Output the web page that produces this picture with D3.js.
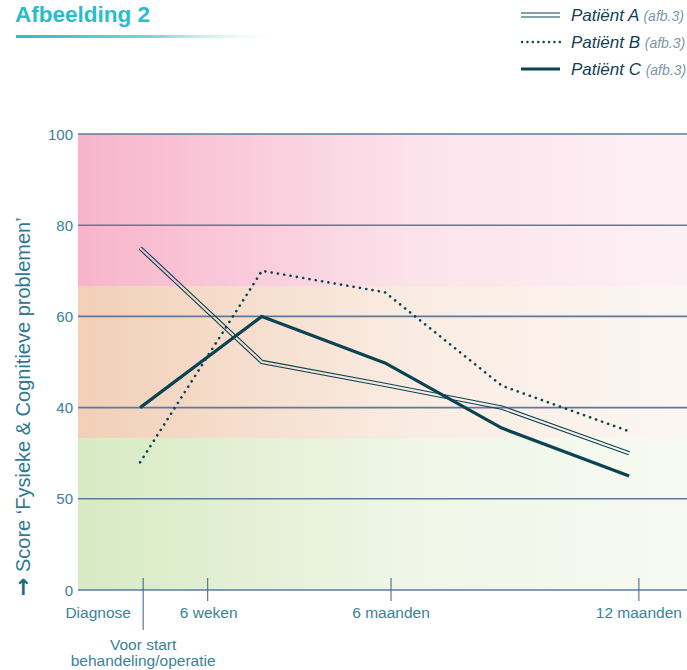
<!DOCTYPE html>
<html><head><meta charset="utf-8">
<script src="https://cdn.jsdelivr.net/npm/d3@7"></script>
<style>
html,body{margin:0;padding:0;background:#fff;}
svg{display:block;font-family:"Liberation Sans",Arial,sans-serif;}
</style></head>
<body>
<svg id="c" width="687" height="670"></svg>
<script>
// ---- data ----
const moments = [10.2, 30.2, 50.4, 69.6, 90.5];      // measurement moments (relative time position)
const patientA = [75, 50, 45, 40, 30];
const patientB = [28, 70, 65.3, 44.8, 34.8];
const patientC = [40, 60, 49.8, 35.5, 25];
const seriesNames = ["Patiënt A", "Patiënt B", "Patiënt C"];
const seriesNote = "(afb.3)";
const yTicks = [0, 20, 40, 60, 80, 100];
const yTickLabels = ["0", "50", "40", "60", "80", "100"];
const xTickPos = [10.7, 21.3, 51.4, 92.1];
const xTickLabels = ["Diagnose", "6 weken", "6 maanden", "12 maanden"];
const bandBreaks = [0, 33.33, 66.67, 100];
const title = "Afbeelding 2";
const yTitle = "Score ‘Fysieke & Cognitieve problemen’";

const svg = d3.select("#c");
const W = 687, H = 670;
const m = {left: 78, right: 0, top: 134, bottom: 80};
const x = d3.scaleLinear().domain([0, 100]).range([m.left, W - m.right]);
const y = d3.scaleLinear().domain([0, 100]).range([H - m.bottom, m.top]);

const defs = svg.append("defs");
const bandColors = [
  ["#d7eac3", "#f7faf3"],
  ["#f2cfb7", "#fcf6f1"],
  ["#f7b4ca", "#fdf1f5"]
];
bandColors.forEach((c, i) => {
  const g = defs.append("linearGradient").attr("id", "band" + i).attr("x1", "0").attr("x2", "1");
  g.append("stop").attr("offset", "0").attr("stop-color", c[0]);
  g.append("stop").attr("offset", "0.55").attr("stop-color", d3.interpolateRgb(c[0], c[1])(0.75));
  g.append("stop").attr("offset", "1").attr("stop-color", c[1]);
});
const tg = defs.append("linearGradient").attr("id", "tline").attr("x1", "0").attr("x2", "1");
tg.append("stop").attr("offset", "0").attr("stop-color", "#2bbccc");
tg.append("stop").attr("offset", "0.5").attr("stop-color", "#7fd3dd");
tg.append("stop").attr("offset", "1").attr("stop-color", "#ffffff").attr("stop-opacity", 0);

// bands
for (let i = 0; i < 3; i++) {
  svg.append("rect")
    .attr("x", x(0)).attr("width", x(100) - x(0))
    .attr("y", y(bandBreaks[i + 1])).attr("height", y(bandBreaks[i]) - y(bandBreaks[i + 1]))
    .attr("fill", "url(#band" + i + ")");
}

// gridlines
svg.append("g").selectAll("line").data(yTicks).join("line")
  .attr("x1", x(0)).attr("x2", x(100))
  .attr("y1", d => y(d)).attr("y2", d => y(d))
  .attr("stroke", "#5b7aa2").attr("stroke-width", 1.6);

// y tick labels
svg.append("g").selectAll("text").data(yTicks).join("text")
  .attr("x", 73).attr("y", d => y(d) + 5.5)
  .attr("text-anchor", "end")
  .attr("font-size", 15).attr("fill", "#3b8298")
  .text((d, i) => yTickLabels[i]);

// y title
svg.append("text")
  .attr("transform", `translate(30,${y(0) + 6}) rotate(-90)`)
  .attr("font-size", 20).attr("fill", "#2f7a90")
  .call(t => {
    t.append("tspan").attr("font-weight", "bold").attr("font-family", "DejaVu Sans").attr("font-size", 22).attr("fill", "#1f6a80").text("→");
    t.append("tspan").text(" " + yTitle);
  });

// x ticks
svg.append("g").selectAll("line").data(xTickPos).join("line")
  .attr("x1", d => x(d)).attr("x2", d => x(d))
  .attr("y1", y(0) - 12).attr("y2", (d, i) => i === 0 ? y(0) + 40 : y(0) + 11)
  .attr("stroke", "#33608a").attr("stroke-width", 1);

const xl = svg.append("g").attr("font-size", 15.5).attr("fill", "#3b8298");
xl.append("text").attr("x", x(xTickPos[0]) - 45).attr("y", y(0) + 28).attr("text-anchor", "middle").text(xTickLabels[0]);
xl.append("text").attr("x", x(xTickPos[1]) + 1).attr("y", y(0) + 28).attr("text-anchor", "middle").text(xTickLabels[1]);
xl.append("text").attr("x", x(xTickPos[2])).attr("y", y(0) + 28).attr("text-anchor", "middle").text(xTickLabels[2]);
xl.append("text").attr("x", x(xTickPos[3])).attr("y", y(0) + 28).attr("text-anchor", "middle").text(xTickLabels[3]);
xl.append("text").attr("x", x(xTickPos[0])).attr("y", y(0) + 60).attr("text-anchor", "middle").text("Voor start");
xl.append("text").attr("x", x(xTickPos[0])).attr("y", y(0) + 76).attr("text-anchor", "middle").text("behandeling/operatie");

// lines
const dark = "#0c4353";
const line = d3.line().x((d, i) => x(moments[i])).y(d => y(d));

// double line for A via mask
const mask = defs.append("mask").attr("id", "dblmask").attr("maskUnits", "userSpaceOnUse")
  .attr("x", 0).attr("y", 0).attr("width", W).attr("height", H);
mask.append("rect").attr("width", W).attr("height", H).attr("fill", "#fff");
mask.append("path").attr("d", line(patientA)).attr("fill", "none").attr("stroke", "#000").attr("stroke-width", 2.2);

svg.append("path").attr("d", line(patientA)).attr("fill", "none")
  .attr("stroke", dark).attr("stroke-width", 4.4).attr("stroke-linejoin", "miter")
  .attr("mask", "url(#dblmask)");

svg.append("path").attr("d", line(patientB)).attr("fill", "none")
  .attr("stroke", dark).attr("stroke-width", 2.6).attr("stroke-linecap", "round")
  .attr("stroke-dasharray", "0.1 6.3");

svg.append("path").attr("d", line(patientC)).attr("fill", "none")
  .attr("stroke", dark).attr("stroke-width", 3.2).attr("stroke-linejoin", "round");

// title
svg.append("text").attr("x", 15).attr("y", 22)
  .attr("font-size", 22.5).attr("font-weight", "bold").attr("fill", "#2bbccc").text(title);
svg.append("rect").attr("x", 16).attr("y", 35).attr("width", 275).attr("height", 3).attr("fill", "url(#tline)");

// legend
const lg = svg.append("g");
const rows = [15, 42, 69];
rows.forEach((ry, i) => {
  const x1 = 521, x2 = 560;
  if (i === 0) {
    lg.append("line").attr("x1", x1).attr("x2", x2).attr("y1", ry - 2).attr("y2", ry - 2).attr("stroke", dark).attr("stroke-width", 1);
    lg.append("line").attr("x1", x1).attr("x2", x2).attr("y1", ry + 2).attr("y2", ry + 2).attr("stroke", dark).attr("stroke-width", 1);
  } else if (i === 1) {
    lg.append("line").attr("x1", x1 + 1).attr("x2", x2).attr("y1", ry).attr("y2", ry).attr("stroke", dark)
      .attr("stroke-width", 2.4).attr("stroke-linecap", "round").attr("stroke-dasharray", "0.1 5.3");
  } else {
    lg.append("line").attr("x1", x1).attr("x2", x2).attr("y1", ry).attr("y2", ry).attr("stroke", dark).attr("stroke-width", 3);
  }
  const t = lg.append("text").attr("x", 571).attr("y", ry + 6).attr("font-style", "italic");
  t.append("tspan").attr("font-size", 17).attr("fill", "#103f50").text(seriesNames[i] + " ");
  t.append("tspan").attr("font-size", 14).attr("fill", "#7d97a6").text(seriesNote);
});
</script>
</body></html>
